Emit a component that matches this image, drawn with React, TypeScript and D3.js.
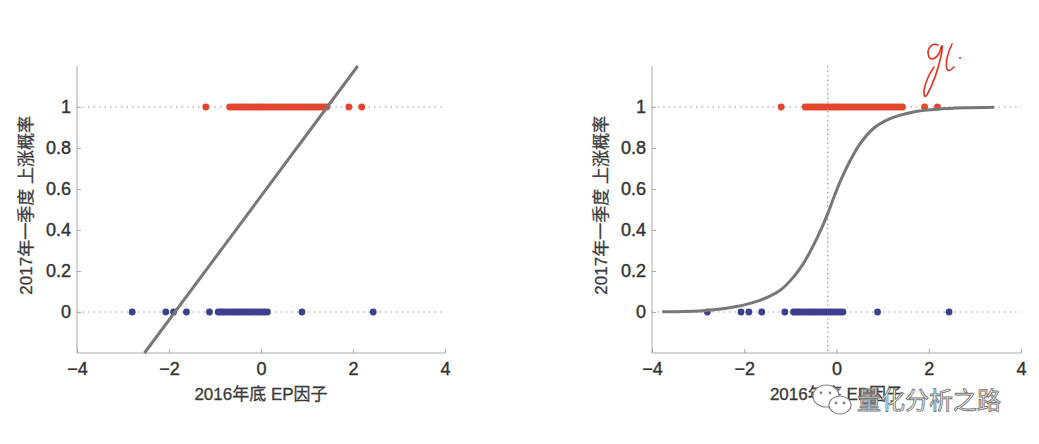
import React, { useEffect, useRef } from 'react';
import * as d3 from 'd3';

// EP factor values (end of 2016) of stocks that went up / did not go up in Q1 2017
const upX = [
  -1.2, -0.68, -0.62, -0.56, -0.5, -0.45, -0.4, -0.34, -0.28, -0.22, -0.16, -0.1, -0.05, 0.0,
  0.06, 0.12, 0.18, 0.24, 0.3, 0.36, 0.42, 0.48, 0.54, 0.6, 0.66, 0.72, 0.78, 0.84, 0.9, 0.96,
  1.02, 1.08, 1.14, 1.2, 1.26, 1.32, 1.38, 1.43, 1.91, 2.19
];
const downX = [
  -2.8, -2.07, -1.9, -1.62, -1.12, -0.93, -0.88, -0.83, -0.78, -0.72, -0.66, -0.6, -0.55, -0.5,
  -0.44, -0.38, -0.32, -0.27, -0.22, -0.16, -0.1, -0.04, 0.03, 0.08, 0.14, 0.89, 2.44
];

// linear fit (left panel): y = a + b * x
const linA = 0.565;
const linB = 0.302;

// logistic fit curve
const sigX = [-3.78, -2.96, -2.23, -1.66, -1.22, -0.93, -0.72, -0.5, -0.32, -0.19, -0.065, 0.117, 0.3, 0.51, 0.8, 1.16, 1.67, 2.18, 2.8, 3.42];
const sigY = [0.001, 0.005, 0.024, 0.057, 0.106, 0.171, 0.236, 0.325, 0.41, 0.48, 0.555, 0.655, 0.74, 0.82, 0.895, 0.943, 0.976, 0.989, 0.996, 0.999];
const sigMid = -0.19;

const xTicks = [-4, -2, 0, 2, 4];
const yTicks = [0, 0.2, 0.4, 0.6, 0.8, 1];
const xTitle = '2016年底 EP因子';
const yTitle = '2017年一季度 上涨概率';

const W = 1039;
const H = 444;
const RED = '#e4462b';
const BLUE = '#3c3e8e';
const FONT = '"Liberation Sans", Arial, "Noto Sans CJK SC", sans-serif';

const App = () => {
  const svgRef = useRef<SVGSVGElement | null>(null);

  useEffect(() => {
    const svg = d3.select(svgRef.current).attr('width', W).attr('height', H);
    svg.selectAll('*').remove();
    svg.append('rect').attr('width', W).attr('height', H).attr('fill', 'white');

    const drawPanel = (left: number, right: number, kind: string) => {
      const x = d3.scaleLinear().domain([-4, 4]).range([left, right]);
      const y = d3.scaleLinear().domain([-0.2, 1.2]).range([353, 66]);
      const g = svg.append('g');

      // dotted reference lines at 0 and 1
      g.selectAll('line.ref')
        .data([0, 1])
        .join('line')
        .attr('x1', x(-4))
        .attr('x2', x(4))
        .attr('y1', (d) => y(d))
        .attr('y2', (d) => y(d))
        .attr('stroke', '#9a9a9a')
        .attr('stroke-width', 1.2)
        .attr('stroke-dasharray', '1.5 4');

      if (kind === 'logit') {
        g.append('line')
          .attr('x1', x(sigMid))
          .attr('x2', x(sigMid))
          .attr('y1', y(1.2))
          .attr('y2', y(-0.2))
          .attr('stroke', '#9a9a9a')
          .attr('stroke-width', 1.2)
          .attr('stroke-dasharray', '1.5 3');
      }

      // axes
      const xAxis = g
        .append('g')
        .attr('transform', `translate(0,${y(-0.2)})`)
        .call(d3.axisBottom(x).tickValues(xTicks).tickSize(-4).tickPadding(9).tickFormat((d: any) => (d < 0 ? '\u2212' + Math.abs(d) : String(d))));
      const yAxis = g
        .append('g')
        .attr('transform', `translate(${left},0)`)
        .call(d3.axisLeft(y).tickValues(yTicks).tickSize(-4).tickPadding(6).tickFormat((d: any) => String(d)));
      [xAxis, yAxis].forEach((a) => {
        a.select('.domain').attr('stroke', '#a8a8a8');
        a.selectAll('.tick line').attr('stroke', '#a8a8a8');
        a.selectAll('.tick text')
          .attr('fill', '#333')
          .attr('stroke', '#333')
          .attr('stroke-width', 0.4)
          .style('font-family', FONT)
          .style('font-size', '18px');
      });
      // y axis spans full range
      yAxis.select('.domain').attr('d', `M0,${y(1.2)}V${y(-0.2)}`);
      xAxis.select('.domain').attr('d', `M${x(-4)},0H${x(4)}`);

      // points
      g.selectAll('circle.up')
        .data(upX)
        .join('circle')
        .attr('cx', (d) => x(d))
        .attr('cy', y(1))
        .attr('r', 3.4)
        .attr('fill', RED);
      g.selectAll('circle.down')
        .data(downX)
        .join('circle')
        .attr('cx', (d) => x(d))
        .attr('cy', y(0))
        .attr('r', 3.4)
        .attr('fill', BLUE);

      // fitted line / curve
      if (kind === 'linear') {
        const x0 = (-0.2 - linA) / linB;
        const x1 = (1.2 - linA) / linB;
        g.append('line')
          .attr('x1', x(x0))
          .attr('y1', y(-0.2))
          .attr('x2', x(x1))
          .attr('y2', y(1.2))
          .attr('stroke', '#777')
          .attr('stroke-width', 3);
      } else {
        const line = d3
          .line<number>()
          .x((d, i) => x(sigX[i]))
          .y((d) => y(d))
          .curve(d3.curveCatmullRom.alpha(0.5));
        g.append('path')
          .attr('d', line(sigY))
          .attr('fill', 'none')
          .attr('stroke', '#777')
          .attr('stroke-width', 3);
      }

      // titles
      g.append('text')
        .attr('x', (left + right) / 2)
        .attr('y', 400)
        .attr('text-anchor', 'middle')
        .attr('fill', '#3a3a3a')
        .attr('stroke', '#3a3a3a')
        .attr('stroke-width', 0.3)
        .style('font-family', FONT)
        .style('font-size', '17px')
        .text(xTitle);
      g.append('text')
        .attr('transform', `translate(${left - 45},${y(0.52)}) rotate(-90)`)
        .attr('text-anchor', 'middle')
        .attr('fill', '#3a3a3a')
        .attr('stroke', '#3a3a3a')
        .attr('stroke-width', 0.3)
        .style('font-family', FONT)
        .style('font-size', '17px')
        .text(yTitle);
    };

    drawPanel(77, 445, 'linear');
    drawPanel(652, 1021, 'logit');

    // handwritten annotation
    const ink = svg.append('g').attr('fill', 'none').attr('stroke', '#e2321f').attr('stroke-width', 1.6).attr('stroke-linecap', 'round');
    ink.append('path').attr('d', 'M938 45 C931 42 926 50 929 57 C932 62 939 57 941 48 C942 43 943 47 941 56 C938 70 933 84 927 95 C923 100 923 90 927 80 C929 74 932 70 934 67');
    ink.append('path').attr('d', 'M952 44 C948 52 945 63 947 69 C948 72 951 70 954 67');
    svg.append('circle').attr('cx', 960).attr('cy', 58).attr('r', 1.1).attr('fill', '#e2321f');

    // watermark
    const wm = svg.append('g');
    wm.append('ellipse').attr('cx', 826).attr('cy', 396).attr('rx', 13).attr('ry', 11).attr('fill', 'white').attr('stroke', '#888').attr('stroke-width', 1.2);
    wm.append('ellipse').attr('cx', 840).attr('cy', 405).attr('rx', 11).attr('ry', 9).attr('fill', 'white').attr('stroke', '#888').attr('stroke-width', 1.2);
    [[821, 393], [830, 393], [836, 403], [844, 403]].forEach(([cx, cy]) =>
      wm.append('circle').attr('cx', cx).attr('cy', cy).attr('r', 1.4).attr('fill', '#888')
    );
    wm.append('text')
      .attr('x', 857)
      .attr('y', 409)
      .attr('fill', 'white')
      .attr('stroke', '#777')
      .attr('stroke-width', 0.9)
      .style('font-family', '"Noto Sans CJK SC", sans-serif')
      .style('font-size', '24px')
      .text('量化分析之路');
  }, []);

  return (
    <div style={{ position: 'absolute', left: 0, top: 0 }}>
      <svg ref={svgRef}></svg>
    </div>
  );
};

export default App;
